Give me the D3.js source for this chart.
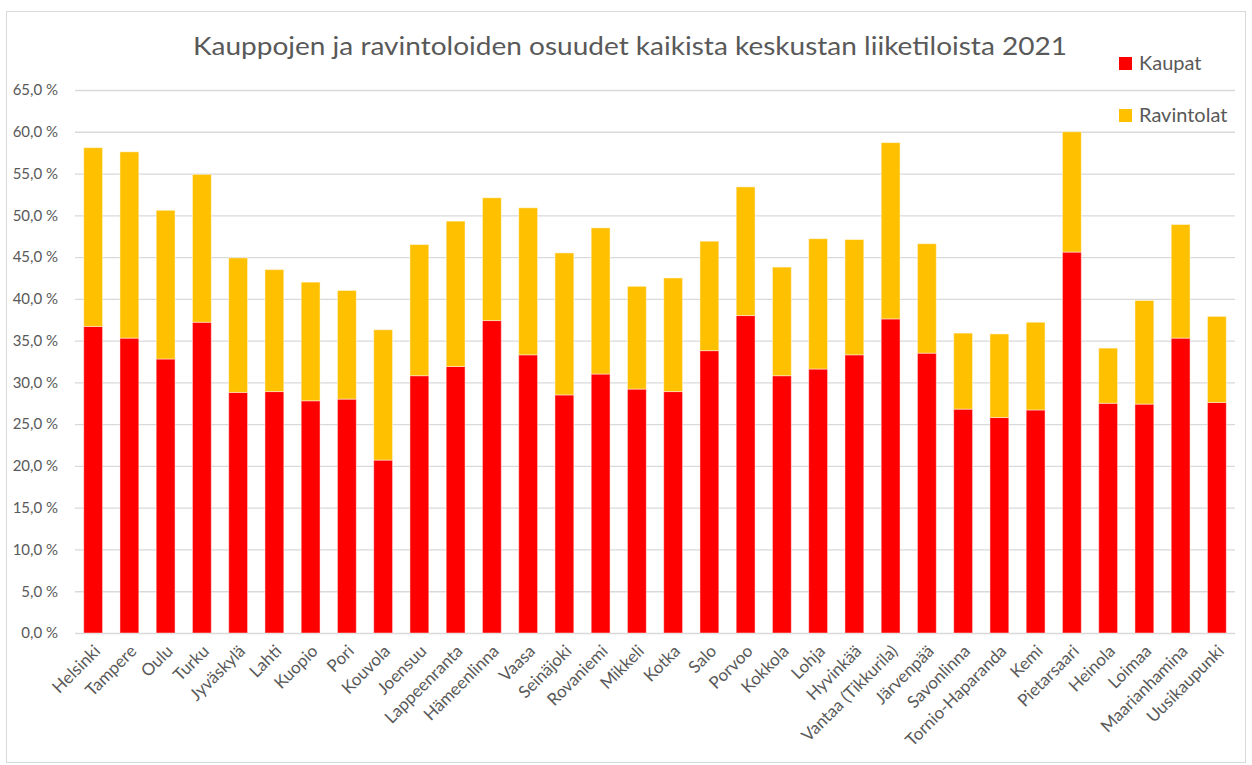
<!DOCTYPE html>
<html>
<head>
<meta charset="utf-8">
<script src="https://cdn.jsdelivr.net/npm/d3@7"></script>
<style>
  body { margin: 0; background: #fff; }
  svg { display: block; font-family: Lato, 'Open Sans', sans-serif; }
</style>
</head>
<body>
<svg id="chart" width="1252" height="765"></svg>
<script>
const title = 'Kauppojen ja ravintoloiden osuudet kaikista keskustan liiketiloista 2021'

const cities = ['Helsinki', 'Tampere', 'Oulu', 'Turku', 'Jyväskylä', 'Lahti', 'Kuopio', 'Pori',
  'Kouvola', 'Joensuu', 'Lappeenranta', 'Hämeenlinna', 'Vaasa', 'Seinäjoki', 'Rovaniemi',
  'Mikkeli', 'Kotka', 'Salo', 'Porvoo', 'Kokkola', 'Lohja', 'Hyvinkää', 'Vantaa (Tikkurila)',
  'Järvenpää', 'Savonlinna', 'Tornio-Haparanda', 'Kemi', 'Pietarsaari', 'Heinola', 'Loimaa',
  'Maarianhamina', 'Uusikaupunki']

// percentages
const kaupat = [36.7, 35.3, 32.8, 37.2, 28.8, 28.9, 27.8, 28.0,
  20.7, 30.8, 31.9, 37.4, 33.3, 28.5, 31.0,
  29.2, 28.9, 33.8, 38.0, 30.8, 31.6, 33.3, 37.6,
  33.5, 26.8, 25.8, 26.7, 45.6, 27.5, 27.4,
  35.3, 27.6]

const ravintolat = [21.4, 22.3, 17.8, 17.7, 16.1, 14.6, 14.2, 13.0,
  15.6, 15.7, 17.4, 14.7, 17.6, 17.0, 17.5,
  12.3, 13.6, 13.1, 15.4, 13.0, 15.6, 13.8, 21.1,
  13.1, 9.1, 10.0, 10.5, 14.4, 6.6, 12.4,
  13.6, 10.3]

const seriesNames = ['Kaupat', 'Ravintolat']
const seriesColors = ['#FF0000', '#FFC000']
const yTicks = [0, 5, 10, 15, 20, 25, 30, 35, 40, 45, 50, 55, 60, 65]

const svg = d3.select('#chart')
const margin = { left: 75, right: 17, top: 90, bottom: 132 }
const width = 1252
const height = 765

svg.append('rect')
  .attr('x', 6.5).attr('y', 11.5)
  .attr('width', 1239).attr('height', 751)
  .attr('fill', '#fff')
  .attr('stroke', '#d9d9d9')

const xScale = d3.scaleBand()
  .domain(cities)
  .range([margin.left, width - margin.right])
  .paddingInner(0.48)
  .paddingOuter(0.24)

const yScale = d3.scaleLinear()
  .domain([0, 65])
  .range([height - margin.bottom, margin.top])

const yAxis = d3.axisLeft(yScale)
  .tickValues(yTicks)
  .tickSize(-(width - margin.left - margin.right))
  .tickFormat(d => d3.format('.1f')(d).replace('.', ',') + ' %')

function customYAxis (g) {
  g.call(yAxis)
  g.select('.domain').remove()
  g.selectAll('.tick line')
    .style('stroke', '#d9d9d9')
    .style('stroke-width', 1.3)
  g.selectAll('.tick text')
    .attr('x', -17)
    .style('fill', '#595959')
    .style('font-size', '15px')
    .style('font-family', 'Lato, sans-serif')
}

svg.append('g')
  .attr('transform', `translate(${margin.left},0)`)
  .call(customYAxis)

const stacked = d3.stack()
  .keys([0, 1])
  .value((d, k) => k === 0 ? kaupat[d] : ravintolat[d])(d3.range(cities.length))

svg.append('g')
  .selectAll('g')
  .data(stacked)
  .join('g')
  .attr('fill', (d, i) => seriesColors[i])
  .selectAll('rect')
  .data(d => d)
  .join('rect')
  .attr('x', d => xScale(cities[d.data]))
  .attr('width', xScale.bandwidth())
  .attr('y', d => yScale(d[1]))
  .attr('height', d => yScale(d[0]) - yScale(d[1]))
  .attr('stroke', 'rgba(255,255,255,0.45)')
  .attr('stroke-width', 1)

// x labels, rotated
svg.append('g')
  .selectAll('text')
  .data(cities)
  .join('text')
  .attr('transform', d => `translate(${xScale(d) + xScale.bandwidth() / 2 + 4},${height - margin.bottom + 15}) rotate(-45)`)
  .attr('text-anchor', 'end')
  .attr('dy', '0.35em')
  .style('fill', '#595959')
  .style('font-size', '17px')
  .text(d => d)

svg.append('text')
  .attr('x', 630)
  .attr('y', 55)
  .attr('text-anchor', 'middle')
  .attr('textLength', 874)
  .attr('lengthAdjust', 'spacingAndGlyphs')
  .style('fill', '#595959')
  .style('font-size', '25px')
  .text(title)

const legend = svg.append('g')
  .selectAll('g')
  .data(seriesNames)
  .join('g')
  .attr('transform', (d, i) => `translate(1119,${57 + i * 52})`)

legend.append('rect')
  .attr('width', 13).attr('height', 13)
  .attr('fill', (d, i) => seriesColors[i])

legend.append('text')
  .attr('x', 20)
  .attr('y', 13)
  .style('fill', '#595959')
  .style('font-size', '20px')
  .text(d => d)
</script>
</body>
</html>
